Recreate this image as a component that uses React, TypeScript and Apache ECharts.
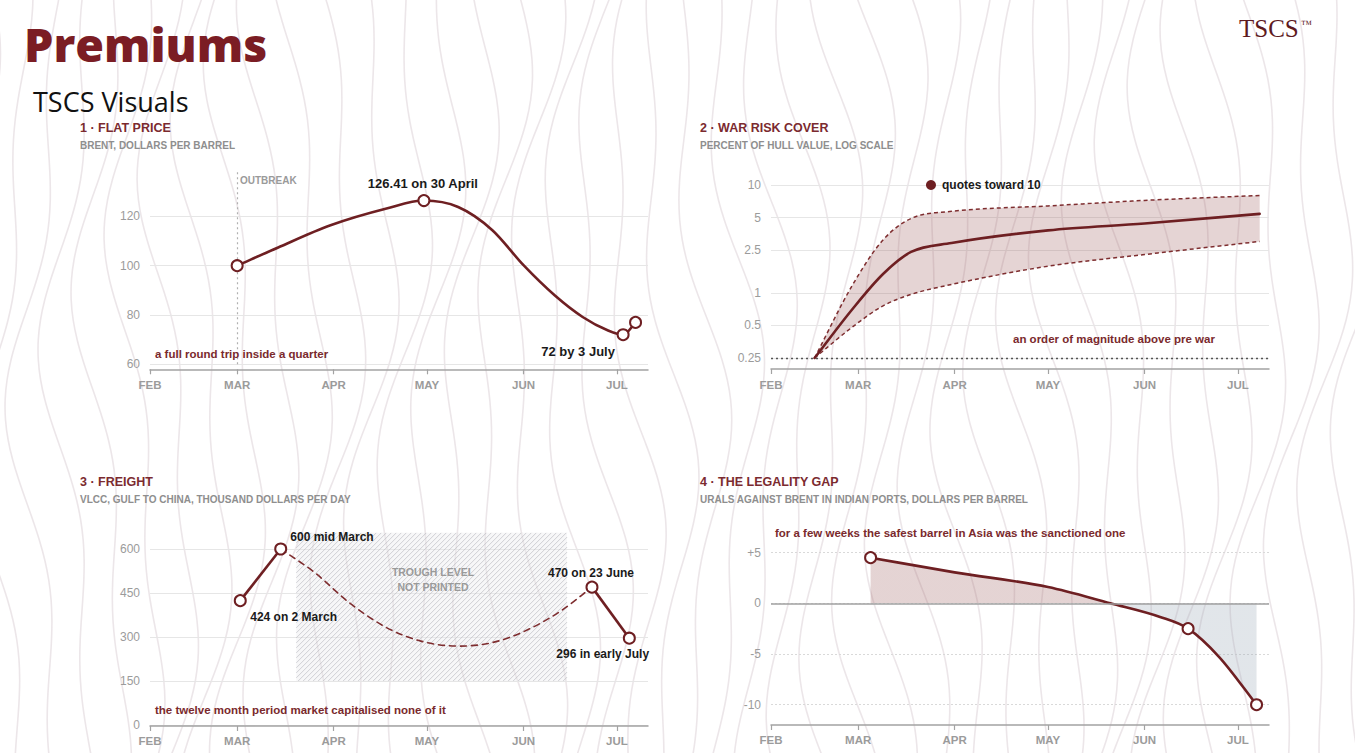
import React, { useEffect, useRef } from 'react';
import * as echarts from 'echarts';

const FONT = '"Liberation Sans", Arial, Helvetica, sans-serif';
const LINE = '#6e1f22';
const DASH = '#7e2d2f';
const NOTE = '#7a2a2d';
const AXIS_GREY = '#a3a3a3';
const LABEL_GREY = '#9b9b9b';

// shared time axis: days counted from 1 February
const monthStarts = [0, 28, 59, 89, 120, 150];
const monthLabels = ['FEB', 'MAR', 'APR', 'MAY', 'JUN', 'JUL'];
const dayMax = 160;

// 1 · Flat price (Brent, $/bbl)
const brentCurve = [
  [28, 100], [41, 107.3], [58, 116.4], [76, 123.2], [88, 126.41], [99, 123.8],
  [110, 114.4], [120, 100.2], [130, 88], [139, 79.2], [147, 73.8], [152, 72], [156, 77],
];
const brentMarkers = [[28, 100], [88, 126.41], [152, 72], [156, 77]];
const brentMarkerLabels = ['', '126.41 on 30 April', '72 by 3 July', ''];
const brentTicks = [60, 80, 100, 120];
const outbreakDay = 28;

// 2 · War risk cover (% of hull value, log)
const warDays = [14, 26, 36, 45, 58, 89, 120, 157];
const warMid = [0.25, 0.7, 1.5, 2.4, 2.9, 3.8, 4.4, 5.4];
const warHigh = [0.25, 1.16, 3.1, 4.9, 5.7, 6.4, 7.2, 8.0];
const warLow = [0.25, 0.48, 0.76, 0.97, 1.2, 1.77, 2.27, 3.0];
const warTicks = [0.25, 0.5, 1, 2.5, 5, 10];
const preWarLevel = 0.25;
const quoteMarker = [51.4, 10];
const quoteLabel = 'quotes toward 10';

// 3 · Freight (VLCC, $k/day)
const freightRise = [[29, 424], [42, 600]];
const freightFall = [[142, 470], [154, 296]];
const freightUnprinted = [
  [42, 600], [53, 519], [64, 417], [76, 332], [87, 286], [99, 269],
  [110, 281], [121, 323], [132, 389], [142, 470],
];
const freightMarkers = [[29, 424], [42, 600], [142, 470], [154, 296]];
const freightLabels = ['424 on 2 March', '600 mid March', '470 on 23 June', '296 in early July'];
const freightTicks = [0, 150, 300, 450, 600];
const troughBox = [47, 150, 134, 655];

// 4 · Legality gap (Urals vs Brent, $/bbl)
const gapCurve = [
  [32, 4.5], [59, 3.05], [89, 1.6], [109, 0], [125, -1.35], [134, -2.5], [144, -5.3], [156, -10],
];
const gapMarkers = [[32, 4.5], [134, -2.5], [156, -10]];
const gapTicks = [-10, -5, 0, 5];
const gapBaseline = 0;

function xAxisFor(idx: number, offset: number, margin: number) {
  return {
    type: 'value', gridIndex: idx, min: 0, max: dayMax, offset,
    axisLine: { show: true, onZero: false, lineStyle: { color: AXIS_GREY, width: 1.5 } },
    axisTick: { show: true, customValues: monthStarts, length: 5, lineStyle: { color: AXIS_GREY, width: 1.2 } },
    axisLabel: {
      show: true, customValues: monthStarts, margin, color: LABEL_GREY, fontSize: 11.5,
      fontWeight: 'bold', fontFamily: FONT,
      formatter: (v: number) => monthLabels[monthStarts.indexOf(v)] ?? '',
    },
    splitLine: { show: false },
    axisPointer: { show: false },
  };
}

function yAxisFor(idx: number, type: string, min: number, max: number, ticks: number[], fmt: any, dotted = false) {
  const ax: any = {
    type, gridIndex: idx, min, max,
    axisLine: { show: false },
    axisTick: { show: false, customValues: ticks },
    axisLabel: { show: true, customValues: ticks, margin: 10, color: LABEL_GREY, fontSize: 12, fontFamily: FONT, formatter: fmt },
    splitLine: { show: true, lineStyle: { color: dotted ? '#d9d9d9' : '#e6e6e6', width: 1, type: dotted ? [2, 2] : 'solid' } },
    axisPointer: { show: false },
  };
  if (type === 'log') ax.logBase = 10;
  return ax;
}

function markerSeries(idx: number, points: number[][], labels: string[] | null, pos: any[], fontSize: number, filled = false, size = 11) {
  return {
    type: 'scatter', xAxisIndex: idx, yAxisIndex: idx, z: 6, silent: true,
    symbol: 'circle', symbolSize: size,
    itemStyle: filled
      ? { color: LINE, opacity: 1 }
      : { color: '#ffffff', borderColor: LINE, borderWidth: 2, opacity: 1 },
    data: points.map((p, i) => {
      const text = labels ? labels[i] : '';
      if (!text) return { value: p, label: { show: false } };
      const [ox, oy, align] = pos[i];
      return {
        value: p,
        label: {
          show: true, formatter: text, position: 'inside', offset: [ox, oy], align, verticalAlign: 'middle',
          color: '#1a1a1a', fontWeight: 'bold', fontSize, fontFamily: FONT, textBorderWidth: 0,
        },
      };
    }),
  };
}

function txt(x: number, y: number, text: string, o: any = {}) {
  return {
    type: 'text', x, y, z: 20, silent: true,
    style: {
      text, fill: o.fill || '#222', fontSize: o.size || 12, fontWeight: o.weight || 'bold',
      fontFamily: o.family || FONT, align: o.align || 'left', verticalAlign: 'middle',
    },
  };
}

function contourLines() {
  const out: any[] = [];
  for (let i = 0; i < 44; i++) {
    const pts: number[][] = [];
    for (let y = -20; y <= 780; y += 20) {
      pts.push([-60 + i * 33 + 22 * Math.sin(y / 120 + i * 0.45) + 12 * Math.sin(y / 53 + i * 1.1), y]);
    }
    out.push({
      type: 'polyline', z: -10, silent: true,
      shape: { points: pts, smooth: 0.4 },
      style: { stroke: 'rgba(185,165,175,0.28)', lineWidth: 1.6, fill: null },
    });
  }
  return out;
}

// monotone cubic (pixel space) segments through screen points
function monotoneSegments(pts: number[][]) {
  const n = pts.length;
  const m: number[] = [];
  const t: number[] = [];
  for (let i = 0; i < n - 1; i++) m.push((pts[i + 1][1] - pts[i][1]) / (pts[i + 1][0] - pts[i][0]));
  t[0] = m[0];
  t[n - 1] = m[n - 2];
  for (let i = 1; i < n - 1; i++) t[i] = m[i - 1] * m[i] <= 0 ? 0 : (m[i - 1] + m[i]) / 2;
  for (let i = 0; i < n - 1; i++) {
    if (m[i] === 0) { t[i] = 0; t[i + 1] = 0; continue; }
    const a = t[i] / m[i];
    const b = t[i + 1] / m[i];
    const s = a * a + b * b;
    if (s > 9) {
      const tau = 3 / Math.sqrt(s);
      t[i] = tau * a * m[i];
      t[i + 1] = tau * b * m[i];
    }
  }
  const segs: any[] = [];
  for (let i = 0; i < n - 1; i++) {
    const [x0, y0] = pts[i];
    const [x1, y1] = pts[i + 1];
    const h = (x1 - x0) / 3;
    segs.push({ p0: [x0, y0], c1: [x0 + h, y0 + t[i] * h], c2: [x1 - h, y1 - t[i + 1] * h], p1: [x1, y1] });
  }
  return segs;
}

function segPath(segs: any[]) {
  let d = `M${segs[0].p0[0]},${segs[0].p0[1]}`;
  for (const s of segs) d += ` C${s.c1[0]},${s.c1[1]} ${s.c2[0]},${s.c2[1]} ${s.p1[0]},${s.p1[1]}`;
  return d;
}

// smooth curve drawn from a series' own data through the axis scales
function curveSeries(idx: number, points: number[][], opt: any) {
  const s: any = {
    type: 'custom', xAxisIndex: idx, yAxisIndex: idx, silent: true, z: opt.z ?? 3, clip: false,
    data: points,
    renderItem: (params: any, api: any) => {
      if (params.dataIndexInside !== 0) return null;
      const n = params.dataInsideLength;
      const px: number[][] = [];
      for (let i = 0; i < n; i++) px.push(api.coord([api.value(0, i), api.value(1, i)]));
      const d = segPath(monotoneSegments(px));
      const children: any[] = [];
      if (opt.areaBase !== undefined) {
        const base = api.coord([api.value(0, 0), opt.areaBase])[1];
        const first = px[0];
        const last = px[n - 1];
        children.push({
          type: 'path', shape: { pathData: `${d} L${last[0]},${base} L${first[0]},${base} Z` },
          style: { fill: opt.areaFill, stroke: null },
        });
      }
      children.push({
        type: 'path', shape: { pathData: d },
        style: { stroke: opt.color, lineWidth: opt.width, lineDash: opt.dash || null, fill: null, lineCap: 'round', lineJoin: 'round' },
      });
      return { type: 'group', children };
    },
  };
  if (opt.markLine) s.markLine = opt.markLine;
  return s;
}

function bandRenderItem(params: any, api: any) {
  if (params.dataIndexInside !== 0) return null;
  const n = params.dataInsideLength;
  const up: number[][] = [];
  const lo: number[][] = [];
  for (let i = 0; i < n; i++) {
    const x = api.value(0, i);
    lo.push(api.coord([x, api.value(1, i)]));
    up.push(api.coord([x, api.value(2, i)]));
  }
  const su = monotoneSegments(up);
  const sl = monotoneSegments(lo);
  let fill = segPath(su);
  const last = sl[sl.length - 1].p1;
  fill += ` L${last[0]},${last[1]}`;
  for (let i = sl.length - 1; i >= 0; i--) {
    const s = sl[i];
    fill += ` C${s.c2[0]},${s.c2[1]} ${s.c1[0]},${s.c1[1]} ${s.p0[0]},${s.p0[1]}`;
  }
  fill += ' Z';
  const edge = { stroke: DASH, lineWidth: 1.5, lineDash: [4, 3], fill: null };
  return {
    type: 'group',
    children: [
      { type: 'path', shape: { pathData: fill }, style: { fill: 'rgba(150,85,85,0.25)', stroke: null } },
      { type: 'path', shape: { pathData: segPath(su) }, style: edge },
      { type: 'path', shape: { pathData: segPath(sl) }, style: edge },
    ],
  };
}

function hatchRenderItem(params: any, api: any) {
  const tl = api.coord([api.value(0), api.value(3)]);
  const br = api.coord([api.value(2), api.value(1)]);
  const x0 = tl[0], y0 = tl[1], x1 = br[0], y1 = br[1];
  const children: any[] = [
    { type: 'rect', shape: { x: x0, y: y0, width: x1 - x0, height: y1 - y0 }, style: { fill: 'rgba(232,232,236,0.35)' } },
  ];
  for (let c = x0 + y0; c <= x1 + y1; c += 5) {
    const sx = Math.max(x0, c - y1);
    const ex = Math.min(x1, c - y0);
    if (ex > sx) {
      children.push({
        type: 'line', shape: { x1: sx, y1: c - sx, x2: ex, y2: c - ex },
        style: { stroke: 'rgba(168,168,176,0.5)', lineWidth: 1 },
      });
    }
  }
  return { type: 'group', children };
}

function vLine(value: number, key: 'xAxis' | 'yAxis', color: string, type: any, width: number) {
  return {
    silent: true, symbol: ['none', 'none'], label: { show: false },
    lineStyle: { color, type, width },
    data: [{ [key]: value }],
  };
}

function buildOption() {
  const gMax = Math.max(...gapCurve.map((p) => p[1]));
  const gMin = Math.min(...gapCurve.map((p) => p[1]));
  const split = gMax / (gMax - gMin);
  const POS = 'rgba(160,100,100,0.28)';
  const NEG = 'rgba(150,165,180,0.28)';
  const gapFill = new echarts.graphic.LinearGradient(0, 0, 0, 1, [
    { offset: 0, color: POS }, { offset: split, color: POS },
    { offset: split, color: NEG }, { offset: 1, color: NEG },
  ]);

  const series: any[] = [
    // Panel 1
    curveSeries(0, brentCurve, {
      color: LINE, width: 2.6,
      markLine: vLine(outbreakDay, 'xAxis', '#b0b0b0', [2, 3], 1.2),
    }),
    markerSeries(0, brentMarkers, brentMarkerLabels, [null, [-1, -17, 'center'], [-45, 17, 'center'], null], 13),

    // Panel 2
    {
      type: 'custom', xAxisIndex: 1, yAxisIndex: 1, silent: true, z: 2, clip: false,
      encode: { x: 0, y: [1, 2] },
      data: warDays.map((d, i) => [d, warLow[i], warHigh[i]]),
      renderItem: bandRenderItem,
      markLine: vLine(preWarLevel, 'yAxis', '#555', [2, 3], 1.3),
    },
    curveSeries(1, warDays.map((d, i) => [d, warMid[i]]), { color: LINE, width: 2.6 }),
    markerSeries(1, [quoteMarker], [quoteLabel], [[11, 0, 'left']], 12, true, 10),

    // Panel 3
    {
      type: 'custom', xAxisIndex: 2, yAxisIndex: 2, silent: true, z: 1, clip: false,
      encode: { x: [0, 2], y: [1, 3] },
      data: [troughBox],
      renderItem: hatchRenderItem,
    },
    curveSeries(2, freightUnprinted, { color: DASH, width: 1.6, dash: [6, 5] }),
    {
      type: 'line', xAxisIndex: 2, yAxisIndex: 2, data: freightRise, symbol: 'none', silent: true,
      lineStyle: { color: LINE, width: 2.6 }, z: 4,
    },
    {
      type: 'line', xAxisIndex: 2, yAxisIndex: 2, data: freightFall, symbol: 'none', silent: true,
      lineStyle: { color: LINE, width: 2.6 }, z: 4,
    },
    markerSeries(2, freightMarkers, freightLabels, [[10, 16, 'left'], [9.6, -12, 'left'], [-44, -14, 'left'], [-73, 16, 'left']], 12),

    // Panel 4
    curveSeries(3, gapCurve, {
      color: LINE, width: 2.6, areaBase: gapBaseline, areaFill: gapFill,
      markLine: vLine(gapBaseline, 'yAxis', '#a0a0a0', 'solid', 1.5),
    }),
    markerSeries(3, gapMarkers, null, [], 12),
  ];

  const graphic: any[] = [
    ...contourLines(),
    txt(24, 44, 'Premiums', { size: 46.5, weight: 800, family: '"Open Sans", "Noto Sans", sans-serif', fill: '#7b1d24' }),
    txt(33, 101, 'TSCS Visuals', { size: 27, weight: 'normal', family: '"Open Sans", "Noto Sans", sans-serif', fill: '#111' }),
    txt(1239, 28, 'TSCS', { size: 25, weight: 'normal', family: '"Liberation Serif", "DejaVu Serif", serif', fill: '#5e1a1e' }),
    txt(1301, 24, '™', { size: 11, weight: 'normal', family: '"Liberation Serif", "DejaVu Serif", serif', fill: '#5e1a1e' }),

    txt(80, 128, '1 · FLAT PRICE', { size: 12.5, fill: '#7b2a2f' }),
    txt(80, 145, 'BRENT, DOLLARS PER BARREL', { size: 10, fill: '#8e8e8e' }),
    txt(700, 128, '2 · WAR RISK COVER', { size: 12.5, fill: '#7b2a2f' }),
    txt(700, 145, 'PERCENT OF HULL VALUE, LOG SCALE', { size: 10, fill: '#8e8e8e' }),
    txt(80, 482, '3 · FREIGHT', { size: 12.5, fill: '#7b2a2f' }),
    txt(80, 499, 'VLCC, GULF TO CHINA, THOUSAND DOLLARS PER DAY', { size: 10, fill: '#8e8e8e' }),
    txt(700, 482, '4 · THE LEGALITY GAP', { size: 12.5, fill: '#7b2a2f' }),
    txt(700, 499, 'URALS AGAINST BRENT IN INDIAN PORTS, DOLLARS PER BARREL', { size: 10, fill: '#8e8e8e' }),

    txt(240, 180, 'OUTBREAK', { size: 10, fill: '#9a9a9a' }),
    txt(155, 354, 'a full round trip inside a quarter', { size: 11.5, fill: NOTE }),
    txt(1013, 339, 'an order of magnitude above pre war', { size: 11.5, fill: NOTE }),
    txt(433, 572, 'TROUGH LEVEL', { size: 10.5, fill: '#9a9a9a', align: 'center' }),
    txt(433, 587, 'NOT PRINTED', { size: 10.5, fill: '#9a9a9a', align: 'center' }),
    txt(155, 710, 'the twelve month period market capitalised none of it', { size: 11.5, fill: NOTE }),
    txt(775, 533, 'for a few weeks the safest barrel in Asia was the sanctioned one', { size: 11.5, fill: NOTE }),
  ];

  const warFmt = (v: number) => {
    const t = warTicks.find((k) => Math.abs(k - v) / k < 1e-6);
    return String(t ?? v);
  };

  return {
    animation: false,
    backgroundColor: '#ffffff',
    textStyle: { fontFamily: FONT },
    tooltip: { show: false },
    grid: [
      { left: 150, top: 172, width: 498, height: 192.3, outerBoundsMode: 'none', containLabel: false },
      { left: 771, top: 185, width: 498, height: 173, outerBoundsMode: 'none', containLabel: false },
      { left: 150, top: 531.4, width: 498, height: 193.6, outerBoundsMode: 'none', containLabel: false },
      { left: 771, top: 532.3, width: 498, height: 192.7, outerBoundsMode: 'none', containLabel: false },
    ],
    xAxis: [xAxisFor(0, 5, 10), xAxisFor(1, 11, 10), xAxisFor(2, 1, 9), xAxisFor(3, 0, 9)],
    yAxis: [
      yAxisFor(0, 'value', 60, 138, brentTicks, (v: number) => String(v)),
      yAxisFor(1, 'log', 0.2499, 10.001, warTicks, warFmt),
      yAxisFor(2, 'value', 0, 660, freightTicks, (v: number) => String(v)),
      yAxisFor(3, 'value', -12, 7, gapTicks, (v: number) => (v > 0 ? '+' + v : String(v)), true),
    ],
    series,
    graphic,
  };
}

export default function App() {
  const ref = useRef<HTMLDivElement>(null);
  useEffect(() => {
    document.body.style.margin = '0';
    if (!ref.current) return;
    const chart = echarts.init(ref.current, undefined, { renderer: 'svg', width: 1355, height: 753 });
    chart.setOption(buildOption() as any);
    return () => chart.dispose();
  }, []);
  return (
    <div
      ref={ref}
      style={{ position: 'absolute', left: 0, top: 0, width: 1355, height: 753, background: '#ffffff' }}
    />
  );
}
